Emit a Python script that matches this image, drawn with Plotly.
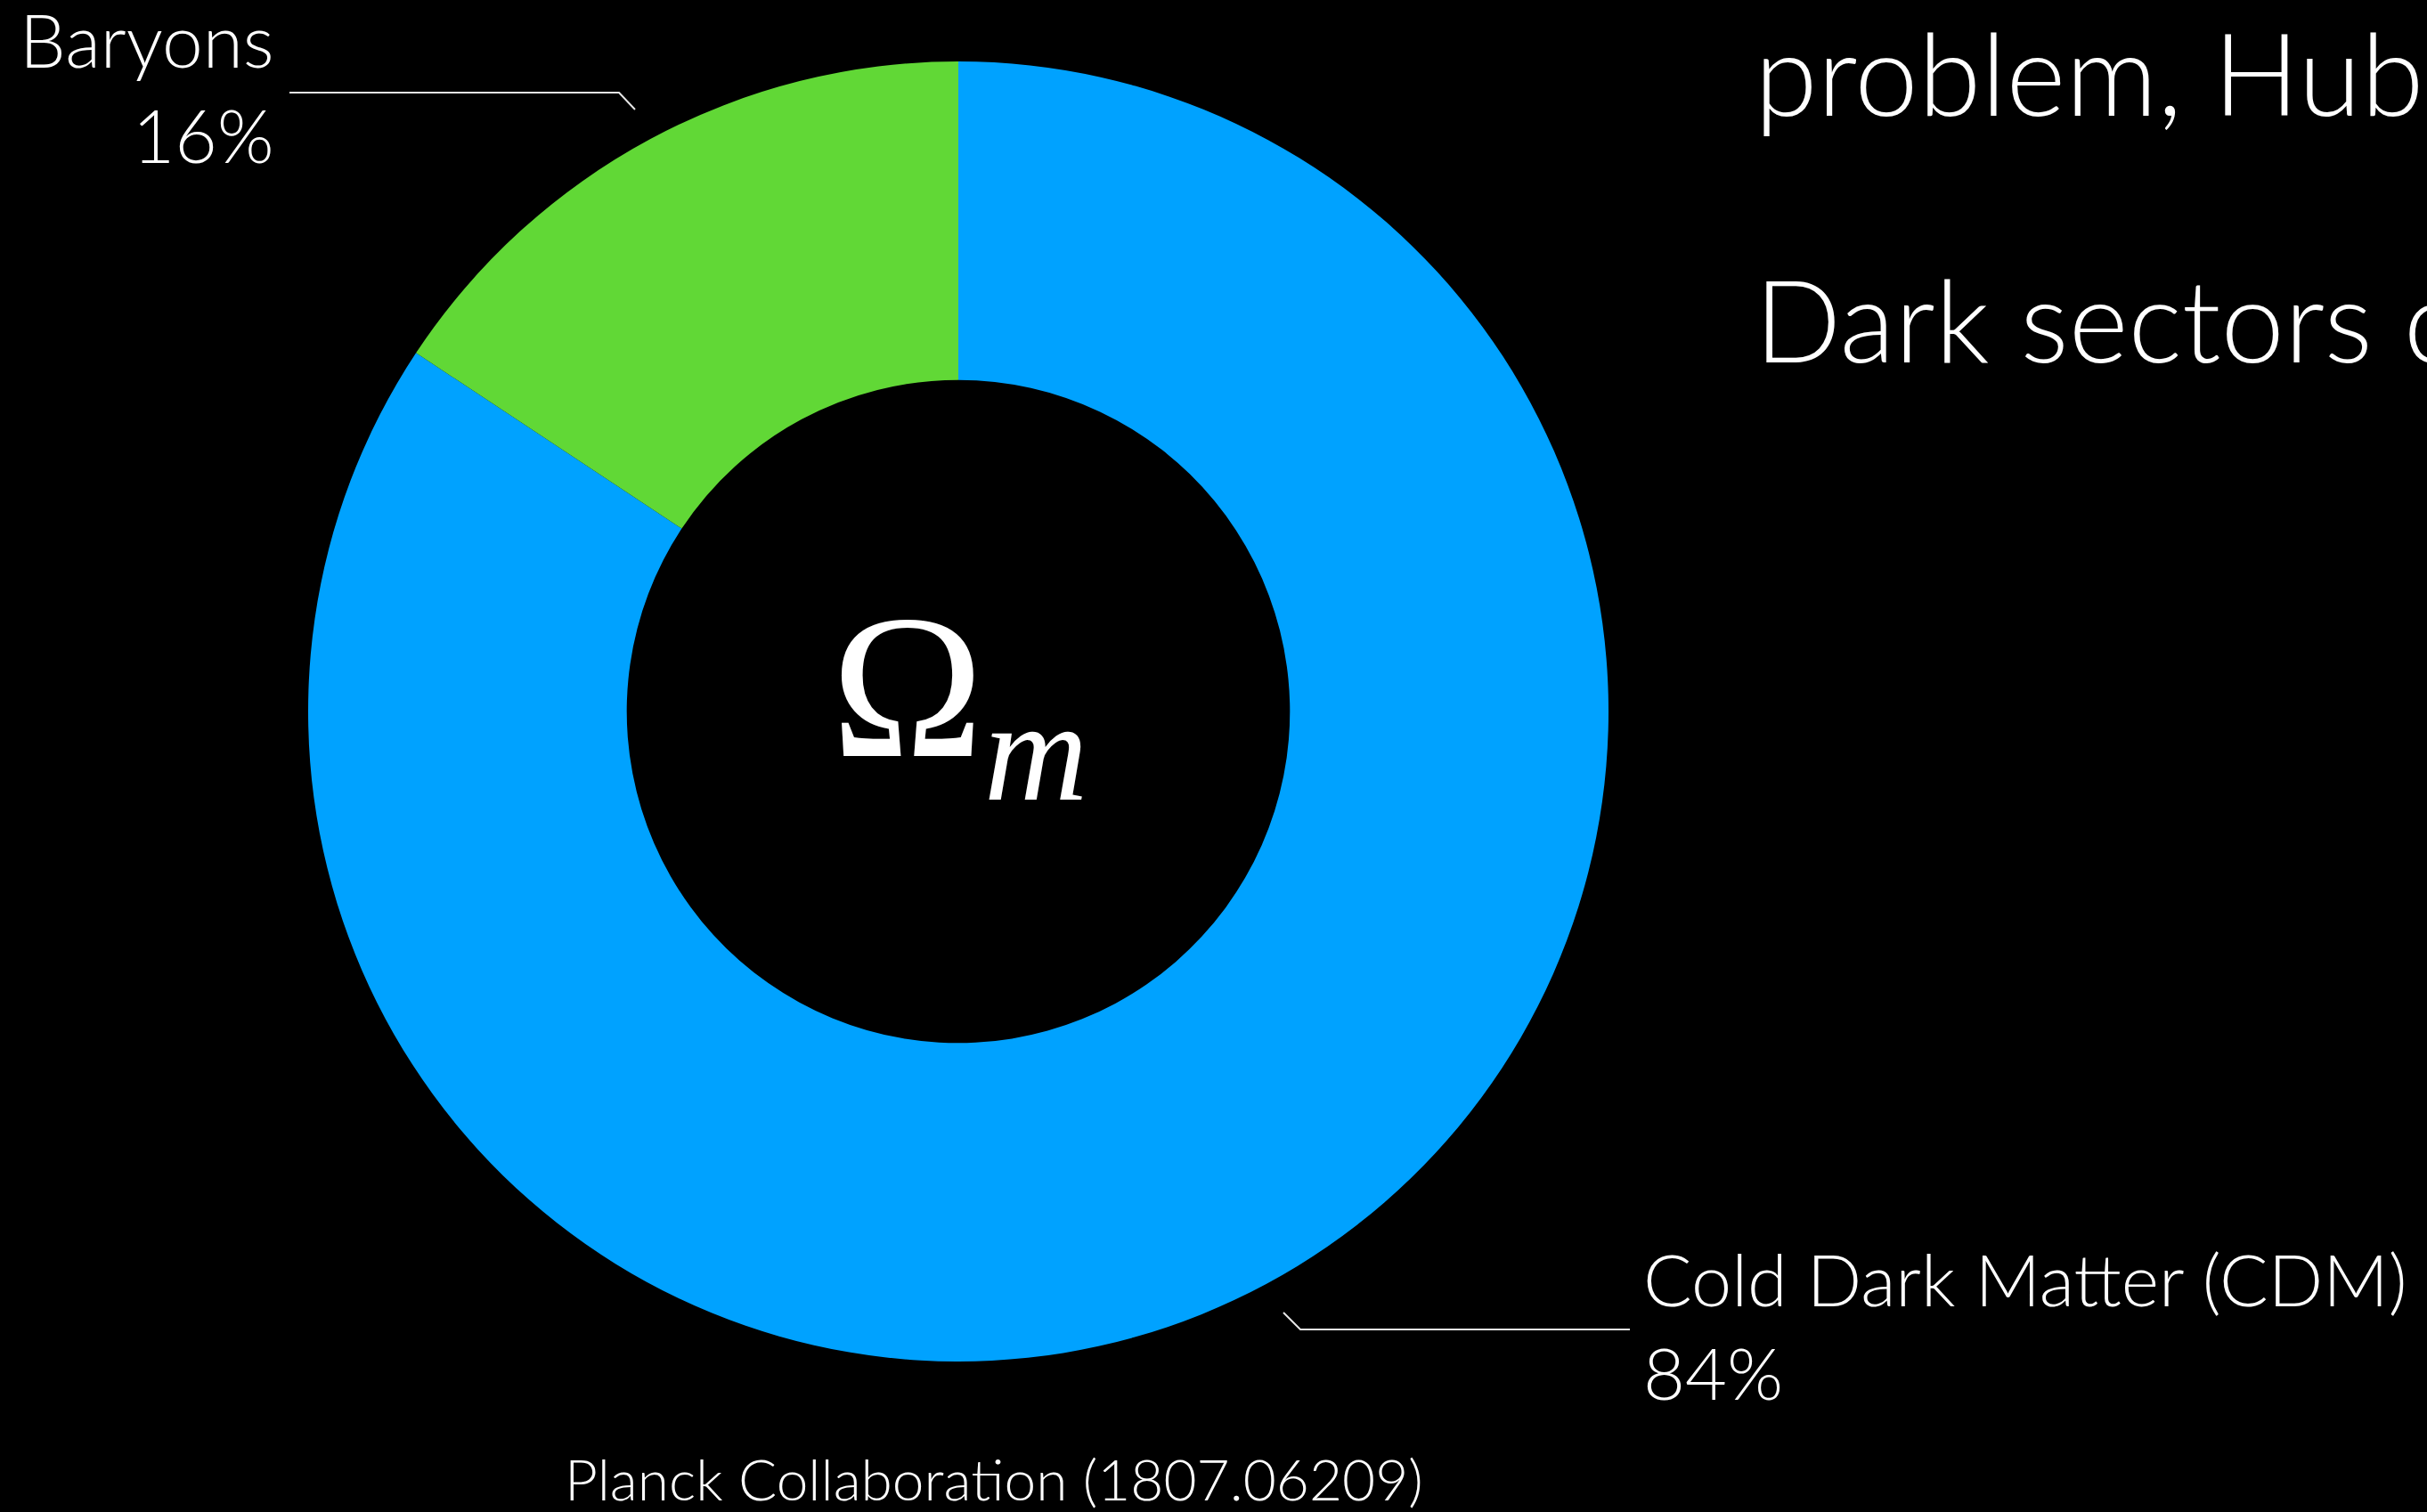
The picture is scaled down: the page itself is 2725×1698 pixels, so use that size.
import plotly.graph_objects as go

W, H = 2725, 1698

# ---- data ----
labels = ["Baryons", "Cold Dark Matter (CDM)"]
values = [15.7, 84.3]
colors = ["#61D836", "#00A2FF"]
center_label = "Ω<sub><i>m</i></sub>"
source_note = "Planck Collaboration (1807.06209)"
side_lines = ["problem, Hubble tension", "Dark sectors coupling"]

SANS = "Lato, 'Open Sans', 'Noto Sans', sans-serif"
SERIF = "'Liberation Serif', 'DejaVu Serif', serif"

def px(x):
    return x / W

def py(y):
    return 1 - y / H

total = sum(values)
pct = [f"{v / total * 100:.0f}%" for v in values]

# draw CDM first clockwise from 12 o'clock so Baryons sit on the upper left
order = [1, 0]
fig = go.Figure(go.Pie(
    labels=[labels[i] for i in order],
    values=[values[i] for i in order],
    hole=0.51,
    sort=False,
    direction="clockwise",
    rotation=0,
    marker=dict(colors=[colors[i] for i in order], line=dict(width=0)),
    textinfo="none",
    hoverinfo="label+percent",
    showlegend=False,
    domain=dict(x=[px(346), px(1806)], y=[py(1529), py(69)]),
))

ann = []
# Baryons label (right aligned)
ann.append(dict(text=f"{labels[0]}<br>{pct[0]}", x=px(310), y=py(98),
                xanchor="right", yanchor="middle", align="right",
                font=dict(family=SANS, size=82, color="white", weight=300)))
# CDM label (left aligned)
ann.append(dict(text=f"{labels[1]}<br>{pct[1]}", x=px(1843), y=py(1488),
                xanchor="left", yanchor="middle", align="left",
                font=dict(family=SANS, size=81, color="white", weight=300)))
# centre symbol
ann.append(dict(text=center_label, x=px(1077), y=py(788),
                xanchor="center", yanchor="middle",
                font=dict(family=SERIF, size=231, color="white")))
# source note
ann.append(dict(text=source_note, x=px(1116), y=py(1660),
                xanchor="center", yanchor="middle",
                font=dict(family=SANS, size=64, color="white", weight=300)))
# side text
ann.append(dict(text=side_lines[0], x=px(1968), y=py(80),
                xanchor="left", yanchor="middle",
                font=dict(family=SANS, size=128, color="white", weight=300)))
ann.append(dict(text=side_lines[1], x=px(1968), y=py(358),
                xanchor="left", yanchor="middle",
                font=dict(family=SANS, size=128, color="white", weight=300)))

for a in ann:
    a.update(xref="paper", yref="paper", showarrow=False)

def path(points):
    return "M " + " L ".join(f"{px(x)} {py(y)}" for x, y in points)

shapes = [
    dict(type="path", path=path([(325, 104), (695, 104), (713, 123)])),
    dict(type="path", path=path([(1441, 1474), (1460, 1493), (1830, 1493)])),
]
for s in shapes:
    s.update(xref="paper", yref="paper", line=dict(color="#E6E6E6", width=2))

fig.update_layout(
    width=W, height=H,
    margin=dict(l=0, r=0, t=0, b=0),
    paper_bgcolor="black", plot_bgcolor="black",
    annotations=ann, shapes=shapes,
)

fig.write_html("out.html")
